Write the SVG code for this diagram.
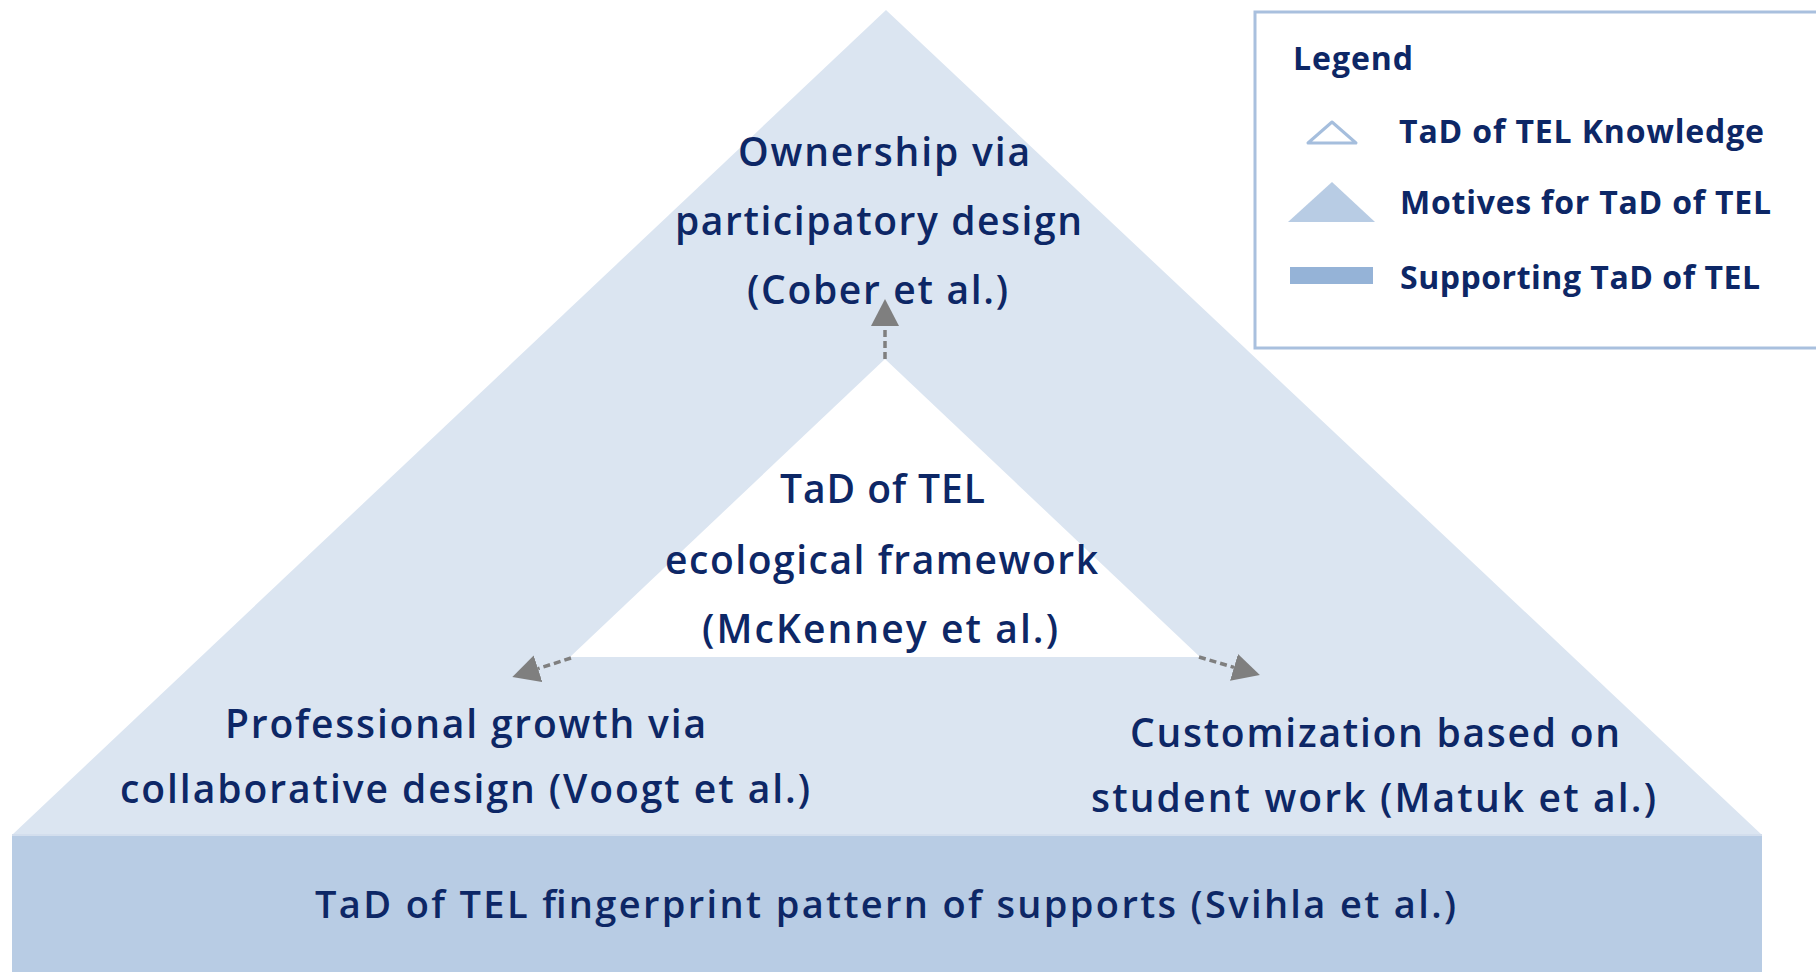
<svg xmlns="http://www.w3.org/2000/svg" width="1816" height="972" viewBox="0 0 1816 972">
  <style>
    .t { font-family: "Open Sans", "Noto Sans", sans-serif; font-size: 39px; font-weight: 600; fill: #0d2766; }
    .tb { font-size: 38px; }
    .lg { font-family: "Open Sans", "Noto Sans", sans-serif; font-size: 32px; font-weight: bold; fill: #0d2766; }
    .conn { fill: none; stroke: #7f7f7f; stroke-width: 3.5; stroke-dasharray: 7 4; }
  </style>
  <defs>
    <marker id="arr" markerUnits="userSpaceOnUse" markerWidth="28" markerHeight="28" viewBox="0 0 28 28" refX="0" refY="14" orient="auto">
      <path d="M0,0 L27,14 L0,28 Z" fill="#7f7f7f"/>
    </marker>
  </defs>
  <rect x="0" y="0" width="1816" height="972" fill="#ffffff"/>

  <g id="motives">
    <polygon points="886,10 1762,835 12,835" fill="#dbe5f1"/>
  </g>
  <g id="supports">
    <rect x="12" y="835" width="1750" height="140" fill="#b8cce4"/>
    <line x1="12" y1="835" x2="1762" y2="835" stroke="#d3deed" stroke-width="2"/>
    <text class="t tb" x="315" y="918" textLength="1141">TaD of TEL fingerprint pattern of supports (Svihla et al.)</text>
  </g>
  <g id="knowledge">
    <polygon points="885,359 1200,657 570,657" fill="#ffffff"/>
    <text class="t" x="780" y="503" textLength="205">TaD of TEL</text>
    <text class="t" x="665" y="574" textLength="433">ecological framework</text>
    <text class="t" x="702" y="643" textLength="356">(McKenney et al.)</text>
  </g>
  <g id="ownership">
    <text class="t" x="738" y="166" textLength="292">Ownership via</text>
    <text class="t" x="675" y="235" textLength="407">participatory design</text>
    <text class="t" x="747" y="304" textLength="261">(Cober et al.)</text>
  </g>
  <g id="growth">
    <text class="t" x="225" y="738" textLength="481">Professional growth via</text>
    <text class="t" x="120" y="803" textLength="690">collaborative design (Voogt et al.)</text>
  </g>
  <g id="customization">
    <text class="t" x="1130" y="747" textLength="490">Customization based on</text>
    <text class="t" x="1091" y="812" textLength="565">student work (Matuk et al.)</text>
  </g>

  <g id="connectors">
    <line class="conn" x1="885" y1="359" x2="885" y2="326" marker-end="url(#arr)"/>
    <line class="conn" x1="571" y1="658" x2="538" y2="668.7" marker-end="url(#arr)"/>
    <line class="conn" x1="1199" y1="657" x2="1234" y2="667.4" marker-end="url(#arr)"/>
  </g>

  <g id="legend">
    <rect x="1255" y="12" width="620" height="336" fill="#ffffff" stroke="#a9c0de" stroke-width="3"/>
    <text class="lg" x="1293" y="70" textLength="120">Legend</text>
    <polygon points="1332,122 1356,143 1308,143" fill="none" stroke="#a5bedd" stroke-width="3" stroke-linejoin="round"/>
    <text class="lg" x="1399" y="143" textLength="365">TaD of TEL Knowledge</text>
    <polygon points="1332,182 1375,222 1288,222" fill="#b8cce4"/>
    <text class="lg" x="1400" y="214" textLength="371">Motives for TaD of TEL</text>
    <rect x="1290" y="267" width="83" height="17" fill="#95b3d7"/>
    <text class="lg" x="1400" y="289" textLength="360">Supporting TaD of TEL</text>
  </g>
</svg>
